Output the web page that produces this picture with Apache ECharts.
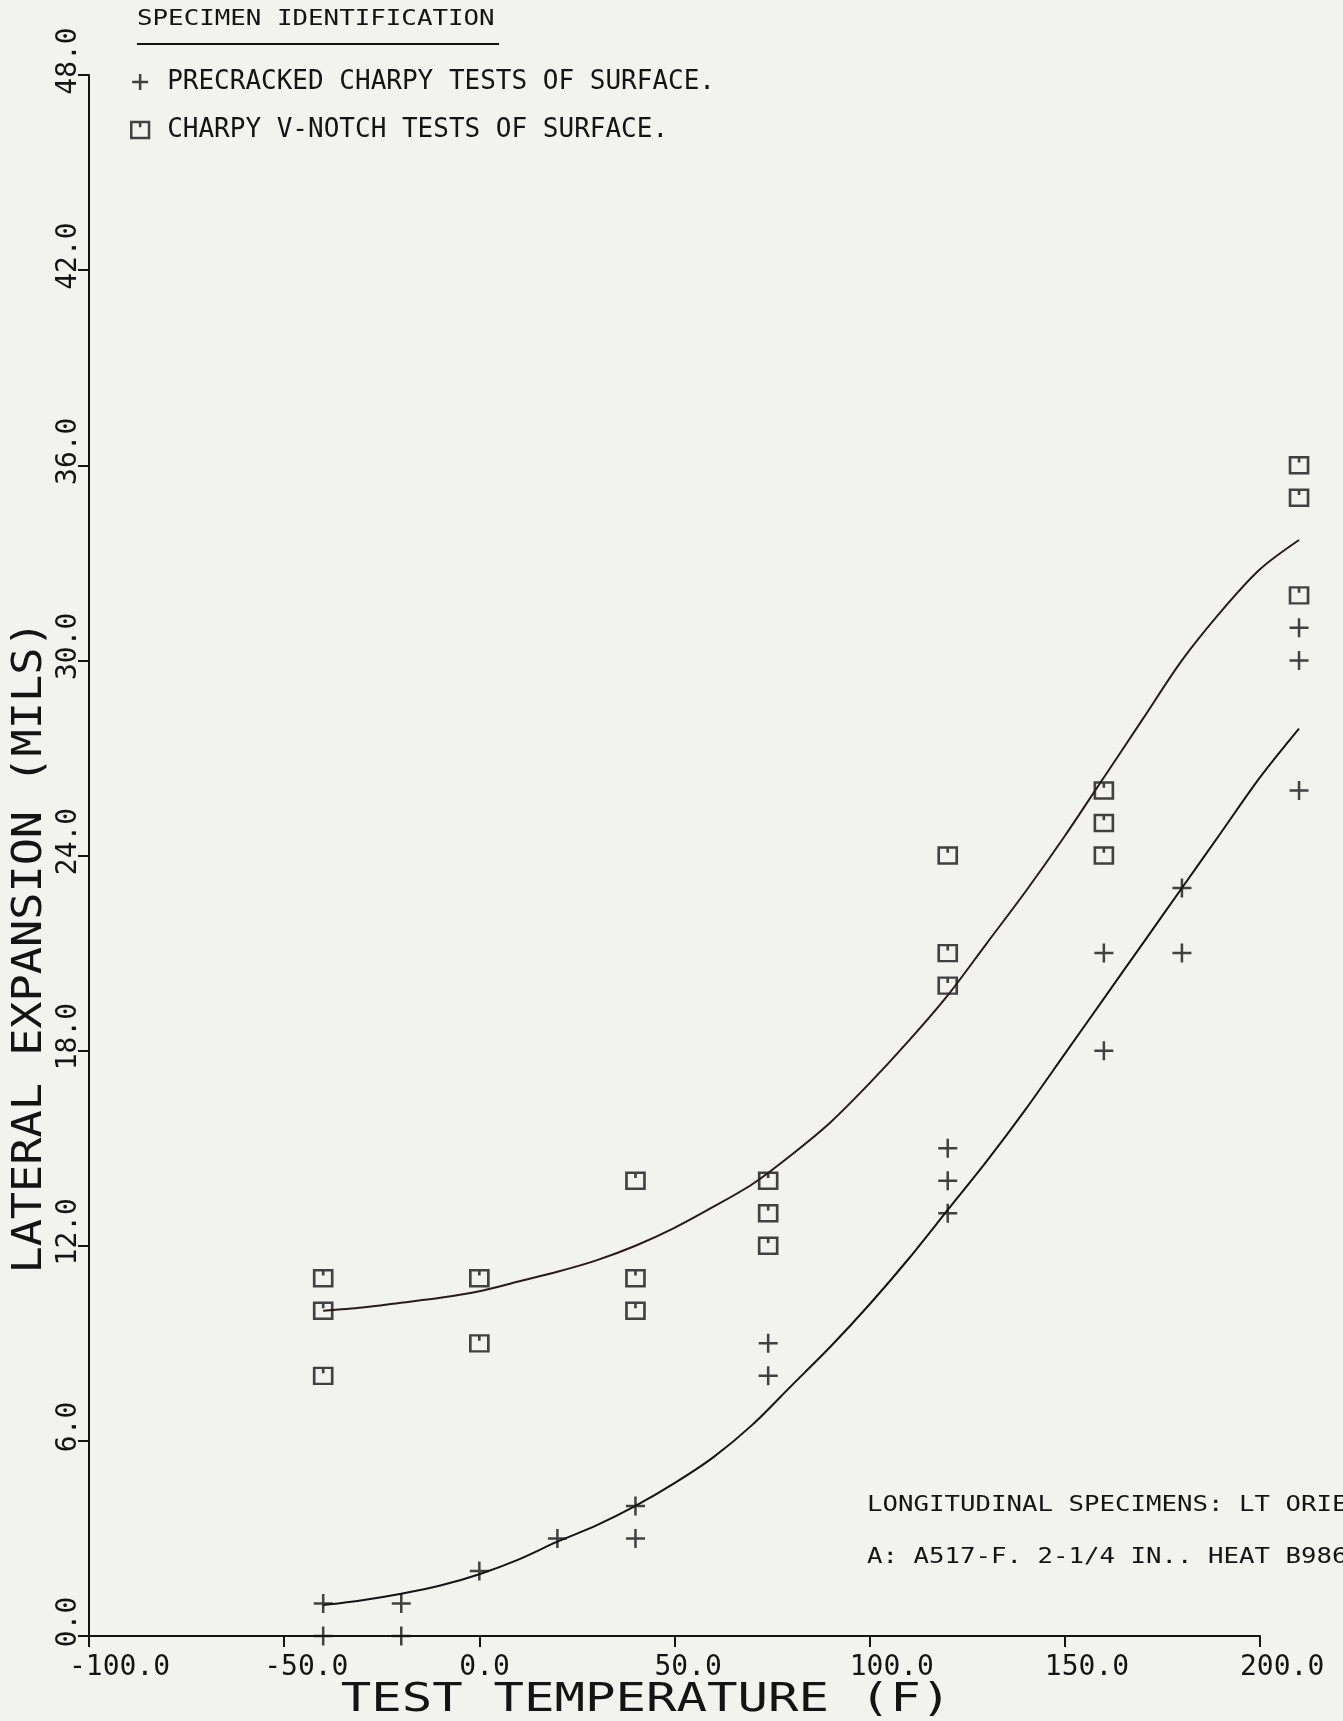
<!DOCTYPE html>
<html>
<head>
<meta charset="utf-8">
<title>Lateral expansion vs test temperature</title>
<script src="https://cdn.jsdelivr.net/npm/echarts@6/dist/echarts.min.js"></script>
<style>
  html, body { margin: 0; padding: 0; background: #f2f2ef; }
  #chart { width: 1343px; height: 1721px; }
</style>
</head>
<body>
<div id="chart"></div>
<script>
const FONT = "'DejaVu Sans Mono', monospace";
const INK = "#141414";

// precracked charpy (+)
const precrackedTemp = [-40, -40, -20, -20, 0, 20, 40, 40, 74, 74, 120, 120, 120, 160, 160, 180, 180, 210, 210, 210];
const precrackedExp = [1, 0, 1, 0, 2, 3, 4, 3, 9, 8, 15, 14, 13, 21, 18, 23, 21, 31, 30, 26];

// charpy v-notch (square)
const vnotchTemp = [-40, -40, -40, 0, 0, 40, 40, 40, 74, 74, 74, 120, 120, 120, 160, 160, 160, 210, 210, 210];
const vnotchExp = [11, 10, 8, 11, 9, 14, 11, 10, 14, 13, 12, 24, 21, 20, 26, 25, 24, 36, 35, 32];

// fitted curves, read every 10 F
const curveTemp = [-40, -30, -20, -10, 0, 10, 20, 30, 40, 50, 60, 70, 80, 90, 100, 110, 120, 130, 140, 150, 160, 170, 180, 190, 200, 210];
const vnotchFit = [10.0, 10.1, 10.25, 10.4, 10.6, 10.9, 11.2, 11.55, 12.0, 12.55, 13.2, 13.9, 14.8, 15.8, 17.0, 18.3, 19.7, 21.3, 22.9, 24.6, 26.4, 28.2, 30.0, 31.5, 32.8, 33.7];
const precrackedFit = [0.95, 1.1, 1.3, 1.55, 1.9, 2.35, 2.9, 3.4, 4.0, 4.7, 5.5, 6.5, 7.7, 8.9, 10.2, 11.6, 13.1, 14.6, 16.2, 17.9, 19.6, 21.3, 23.0, 24.7, 26.4, 27.9];

const PRE_NAME = "PRECRACKED CHARPY TESTS OF SURFACE.";
const CVN_NAME = "CHARPY V-NOTCH TESTS OF SURFACE.";
const CROSS = "path://M5,0 L5,10 M0,5 L10,5";
const BOX = "path://M1,1 L11,1 L11,10 L1,10 Z M6,1 L6,4";

const zip = (xs, ys) => xs.map((x, i) => [x, ys[i]]);

const chart = echarts.init(document.getElementById("chart"));

// grid 0 carries the drawn axes; grid 1 has the same scale but runs on to 210 F
// so the fitted curves can go past the last tick like in the plot
chart.setOption({
  backgroundColor: "#f2f2ef",
  animation: false,
  grid: [
    { left: 89, right: 83, top: 75, bottom: 85 },
    { left: 89, right: 44, top: 75, bottom: 85 }
  ],
  legend: {
    orient: "vertical",
    left: 125,
    top: 64,
    itemWidth: 44,
    itemHeight: 16,
    itemGap: 22,
    selectedMode: false,
    data: [
      { name: PRE_NAME, icon: CROSS },
      { name: CVN_NAME, icon: BOX }
    ],
    itemStyle: { color: "rgba(0,0,0,0)", borderColor: INK, borderWidth: 2.5 },
    textStyle: { fontFamily: FONT, fontSize: 26, color: INK }
  },
  xAxis: [
    {
      type: "value",
      gridIndex: 0,
      min: -100,
      max: 200,
      interval: 50,
      splitLine: { show: false },
      axisLine: { onZero: false, lineStyle: { color: INK, width: 2 } },
      axisTick: { length: 11, lineStyle: { color: INK, width: 2 } },
      axisLabel: {
        align: "right",
        verticalAlign: "top",
        margin: 18,
        showMinLabel: true,
        showMaxLabel: true,
        formatter: v => "{s|" + v.toFixed(1) + "}",
        rich: { s: { width: 20, align: "left", fontFamily: FONT, fontSize: 28, color: INK } }
      }
    },
    { type: "value", gridIndex: 1, min: -100, max: 210, show: false }
  ],
  yAxis: [
    {
      type: "value",
      gridIndex: 0,
      min: 0,
      max: 48,
      interval: 6,
      splitLine: { show: false },
      axisLine: { onZero: false, lineStyle: { color: INK, width: 2 } },
      axisTick: { length: 11, lineStyle: { color: INK, width: 2 } },
      axisLabel: {
        rotate: 90,
        align: "center",
        verticalAlign: "bottom",
        margin: 6,
        showMinLabel: true,
        showMaxLabel: true,
        formatter: v => "{s|" + v.toFixed(1) + "}",
        rich: { s: { padding: [0, 0, 0, 28], fontFamily: FONT, fontSize: 28, color: INK } }
      }
    },
    { type: "value", gridIndex: 1, min: 0, max: 48, show: false }
  ],
  series: [
    {
      name: "vnotch-fit",
      type: "line",
      xAxisIndex: 1,
      yAxisIndex: 1,
      data: zip(curveTemp, vnotchFit),
      smooth: 0.3,
      showSymbol: false,
      clip: false,
      lineStyle: { color: "#2b1a1a", width: 2 },
      silent: true
    },
    {
      name: "precracked-fit",
      type: "line",
      xAxisIndex: 1,
      yAxisIndex: 1,
      data: zip(curveTemp, precrackedFit),
      smooth: 0.3,
      showSymbol: false,
      clip: false,
      lineStyle: { color: INK, width: 2 },
      silent: true
    },
    {
      name: PRE_NAME,
      type: "scatter",
      data: zip(precrackedTemp, precrackedExp),
      symbol: CROSS,
      symbolSize: 19,
      clip: false,
      itemStyle: { color: "rgba(0,0,0,0)", borderColor: INK, borderWidth: 2.5 }
    },
    {
      name: CVN_NAME,
      type: "scatter",
      data: zip(vnotchTemp, vnotchExp),
      symbol: BOX,
      symbolSize: [18, 16],
      clip: false,
      itemStyle: { color: "rgba(0,0,0,0)", borderColor: INK, borderWidth: 2.5 }
    }
  ],
  graphic: [
    {
      type: "text",
      x: 137, y: 20,
      scaleX: 1.23,
      style: { text: "SPECIMEN IDENTIFICATION", font: "21px " + FONT, fill: INK, textAlign: "left", textVerticalAlign: "middle" }
    },
    {
      type: "line",
      shape: { x1: 137, y1: 44, x2: 499, y2: 44 },
      style: { stroke: INK, lineWidth: 2 }
    },
    {
      type: "text",
      x: 31, y: 947,
      rotation: Math.PI / 2,
      scaleX: 1.13,
      style: { text: "LATERAL EXPANSION (MILS)", font: "40px " + FONT, fill: INK, textAlign: "center", textVerticalAlign: "middle" }
    },
    {
      type: "text",
      x: 646, y: 1701,
      scaleX: 1.3,
      style: { text: "TEST TEMPERATURE (F)", font: "39px " + FONT, fill: INK, textAlign: "center", textVerticalAlign: "middle" }
    },
    {
      type: "text",
      x: 867, y: 1505,
      scaleX: 1.17,
      style: { text: "LONGITUDINAL SPECIMENS: LT ORIENTATION", font: "22px " + FONT, fill: INK, textAlign: "left", textVerticalAlign: "middle" }
    },
    {
      type: "text",
      x: 867, y: 1557,
      scaleX: 1.17,
      style: { text: "A: A517-F. 2-1/4 IN.. HEAT B986", font: "22px " + FONT, fill: INK, textAlign: "left", textVerticalAlign: "middle" }
    }
  ]
});
</script>
</body>
</html>
